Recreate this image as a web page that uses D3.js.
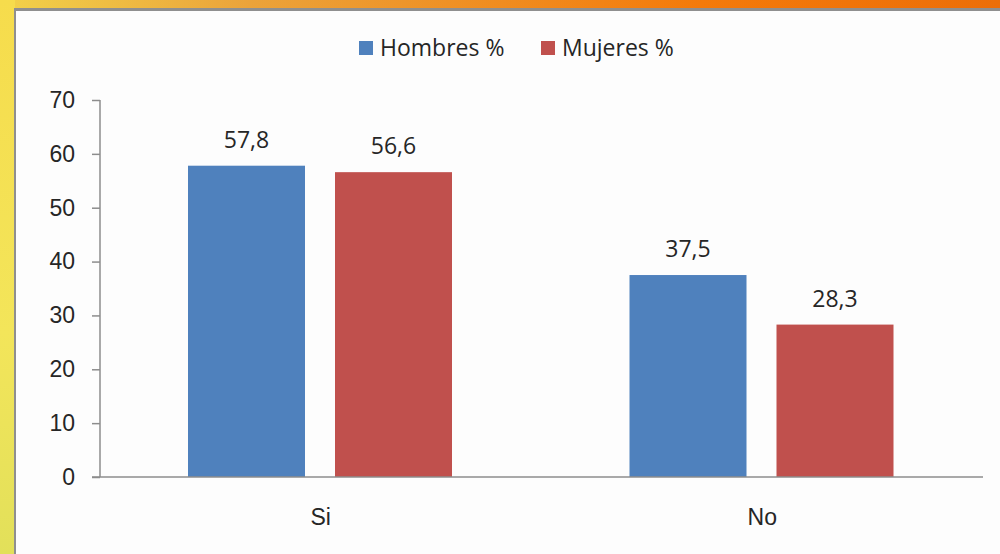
<!doctype html>
<html>
<head>
<meta charset="utf-8">
<title>Hombres / Mujeres</title>
<script src="https://d3js.org/d3.v7.min.js"></script>
<style>
  html, body { margin:0; padding:0; }
  body { width:1000px; height:554px; overflow:hidden; }
  svg { display:block; font-family:"Open Sans", "Noto Sans", sans-serif; }
</style>
</head>
<body>
<svg id="chart" width="1000" height="554"></svg>
<script>
// data
var categories = ["Si", "No"];
var series = ["Hombres %", "Mujeres %"];
var hombres = [57.8, 37.5];
var mujeres = [56.6, 28.3];
var valueLabels = [["57,8", "37,5"], ["56,6", "28,3"]];
var yTicks = [0, 10, 20, 30, 40, 50, 60, 70];
var colors = ["#4F81BD", "#C0504D"];

var svg = d3.select("#chart");

// frame: orange top strip, yellow left strip
var defs = svg.append("defs");
var gTop = defs.append("linearGradient").attr("id", "gtop");
gTop.append("stop").attr("offset", "0%").attr("stop-color", "#F2D24A");
gTop.append("stop").attr("offset", "25%").attr("stop-color", "#EBA33A");
gTop.append("stop").attr("offset", "70%").attr("stop-color", "#F47A0A");
gTop.append("stop").attr("offset", "100%").attr("stop-color", "#EC6E08");
var gLeft = defs.append("linearGradient").attr("id", "gleft")
    .attr("x1", 0).attr("y1", 0).attr("x2", 0).attr("y2", 1);
gLeft.append("stop").attr("offset", "0%").attr("stop-color", "#F6DC4C");
gLeft.append("stop").attr("offset", "60%").attr("stop-color", "#F3E55A");
gLeft.append("stop").attr("offset", "100%").attr("stop-color", "#E2E05A");

svg.append("rect").attr("x", 0).attr("y", 0).attr("width", 1000).attr("height", 12)
    .attr("fill", "url(#gtop)");
svg.append("rect").attr("x", 0).attr("y", 0).attr("width", 15).attr("height", 554)
    .attr("fill", "url(#gleft)");
// grey shadow edge of the white panel
svg.append("rect").attr("x", 14).attr("y", 8).attr("width", 986).attr("height", 546)
    .attr("fill", "#8f8f8f");
svg.append("rect").attr("x", 16).attr("y", 11).attr("width", 984).attr("height", 543)
    .attr("fill", "#fdfdfd");

var margin = {top: 100, left: 100, right: 17, bottom: 77};
var width = 1000 - margin.left - margin.right,
    height = 554 - margin.top - margin.bottom;

var g = svg.append("g").attr("transform", "translate(" + margin.left + "," + margin.top + ")");

var x = d3.scaleBand().domain(categories).range([0, width]);
// inner band: 88px outer gap, 117px bars, 30px between
var x1 = d3.scaleBand().domain(series).range([88, 352]).paddingInner(30 / 147);
var y = d3.scaleLinear().domain([0, 70]).range([height, 0]);

var txt = "#262626";
var fs = "23px";

// y axis
var yAxis = d3.axisLeft(y).tickValues(yTicks).tickSize(8).tickPadding(17);
var ya = g.append("g").call(yAxis);
ya.select(".domain").attr("stroke", "#8c8c8c").attr("stroke-width", 1.5).attr("d", "M0," + height + "V0");
ya.selectAll(".tick line").attr("stroke", "#8c8c8c").attr("stroke-width", 1.5);
ya.selectAll(".tick text").attr("fill", txt).style("font-size", fs);

// bars
var data = [hombres, mujeres];
series.forEach(function(s, si) {
  g.selectAll(".bar" + si)
    .data(categories)
    .enter().append("rect")
    .attr("x", function(c) { return x(c) + x1(s); })
    .attr("y", function(c, i) { return y(data[si][i]); })
    .attr("width", x1.bandwidth())
    .attr("height", function(c, i) { return height - y(data[si][i]); })
    .attr("fill", colors[si]);

  g.selectAll(".lbl" + si)
    .data(categories)
    .enter().append("text")
    .attr("x", function(c) { return x(c) + x1(s) + x1.bandwidth() / 2; })
    .attr("y", function(c, i) { return y(data[si][i]) - 18; })
    .attr("text-anchor", "middle")
    .attr("fill", txt)
    .style("font-size", fs)
    .text(function(c, i) { return valueLabels[si][i]; });
});

// x axis
var xAxis = d3.axisBottom(x).tickSize(0).tickPadding(32);
var xa = g.append("g").attr("transform", "translate(0," + height + ")").call(xAxis);
xa.select(".domain").attr("stroke", "#8c8c8c").attr("stroke-width", 1.5).attr("d", "M-8,0H" + width);
xa.selectAll(".tick text").attr("fill", txt).style("font-size", fs);

// legend
var legend = svg.append("g").attr("transform", "translate(359,48)");
var lx = [0, 182];
series.forEach(function(s, i) {
  var item = legend.append("g").attr("transform", "translate(" + lx[i] + ",0)");
  item.append("rect").attr("x", 0).attr("y", -7).attr("width", 14).attr("height", 14).attr("fill", colors[i]);
  item.append("text").attr("x", 21).attr("y", 0).attr("dy", "0.35em")
    .attr("fill", txt).style("font-size", fs).text(s);
});
</script>
</body>
</html>
